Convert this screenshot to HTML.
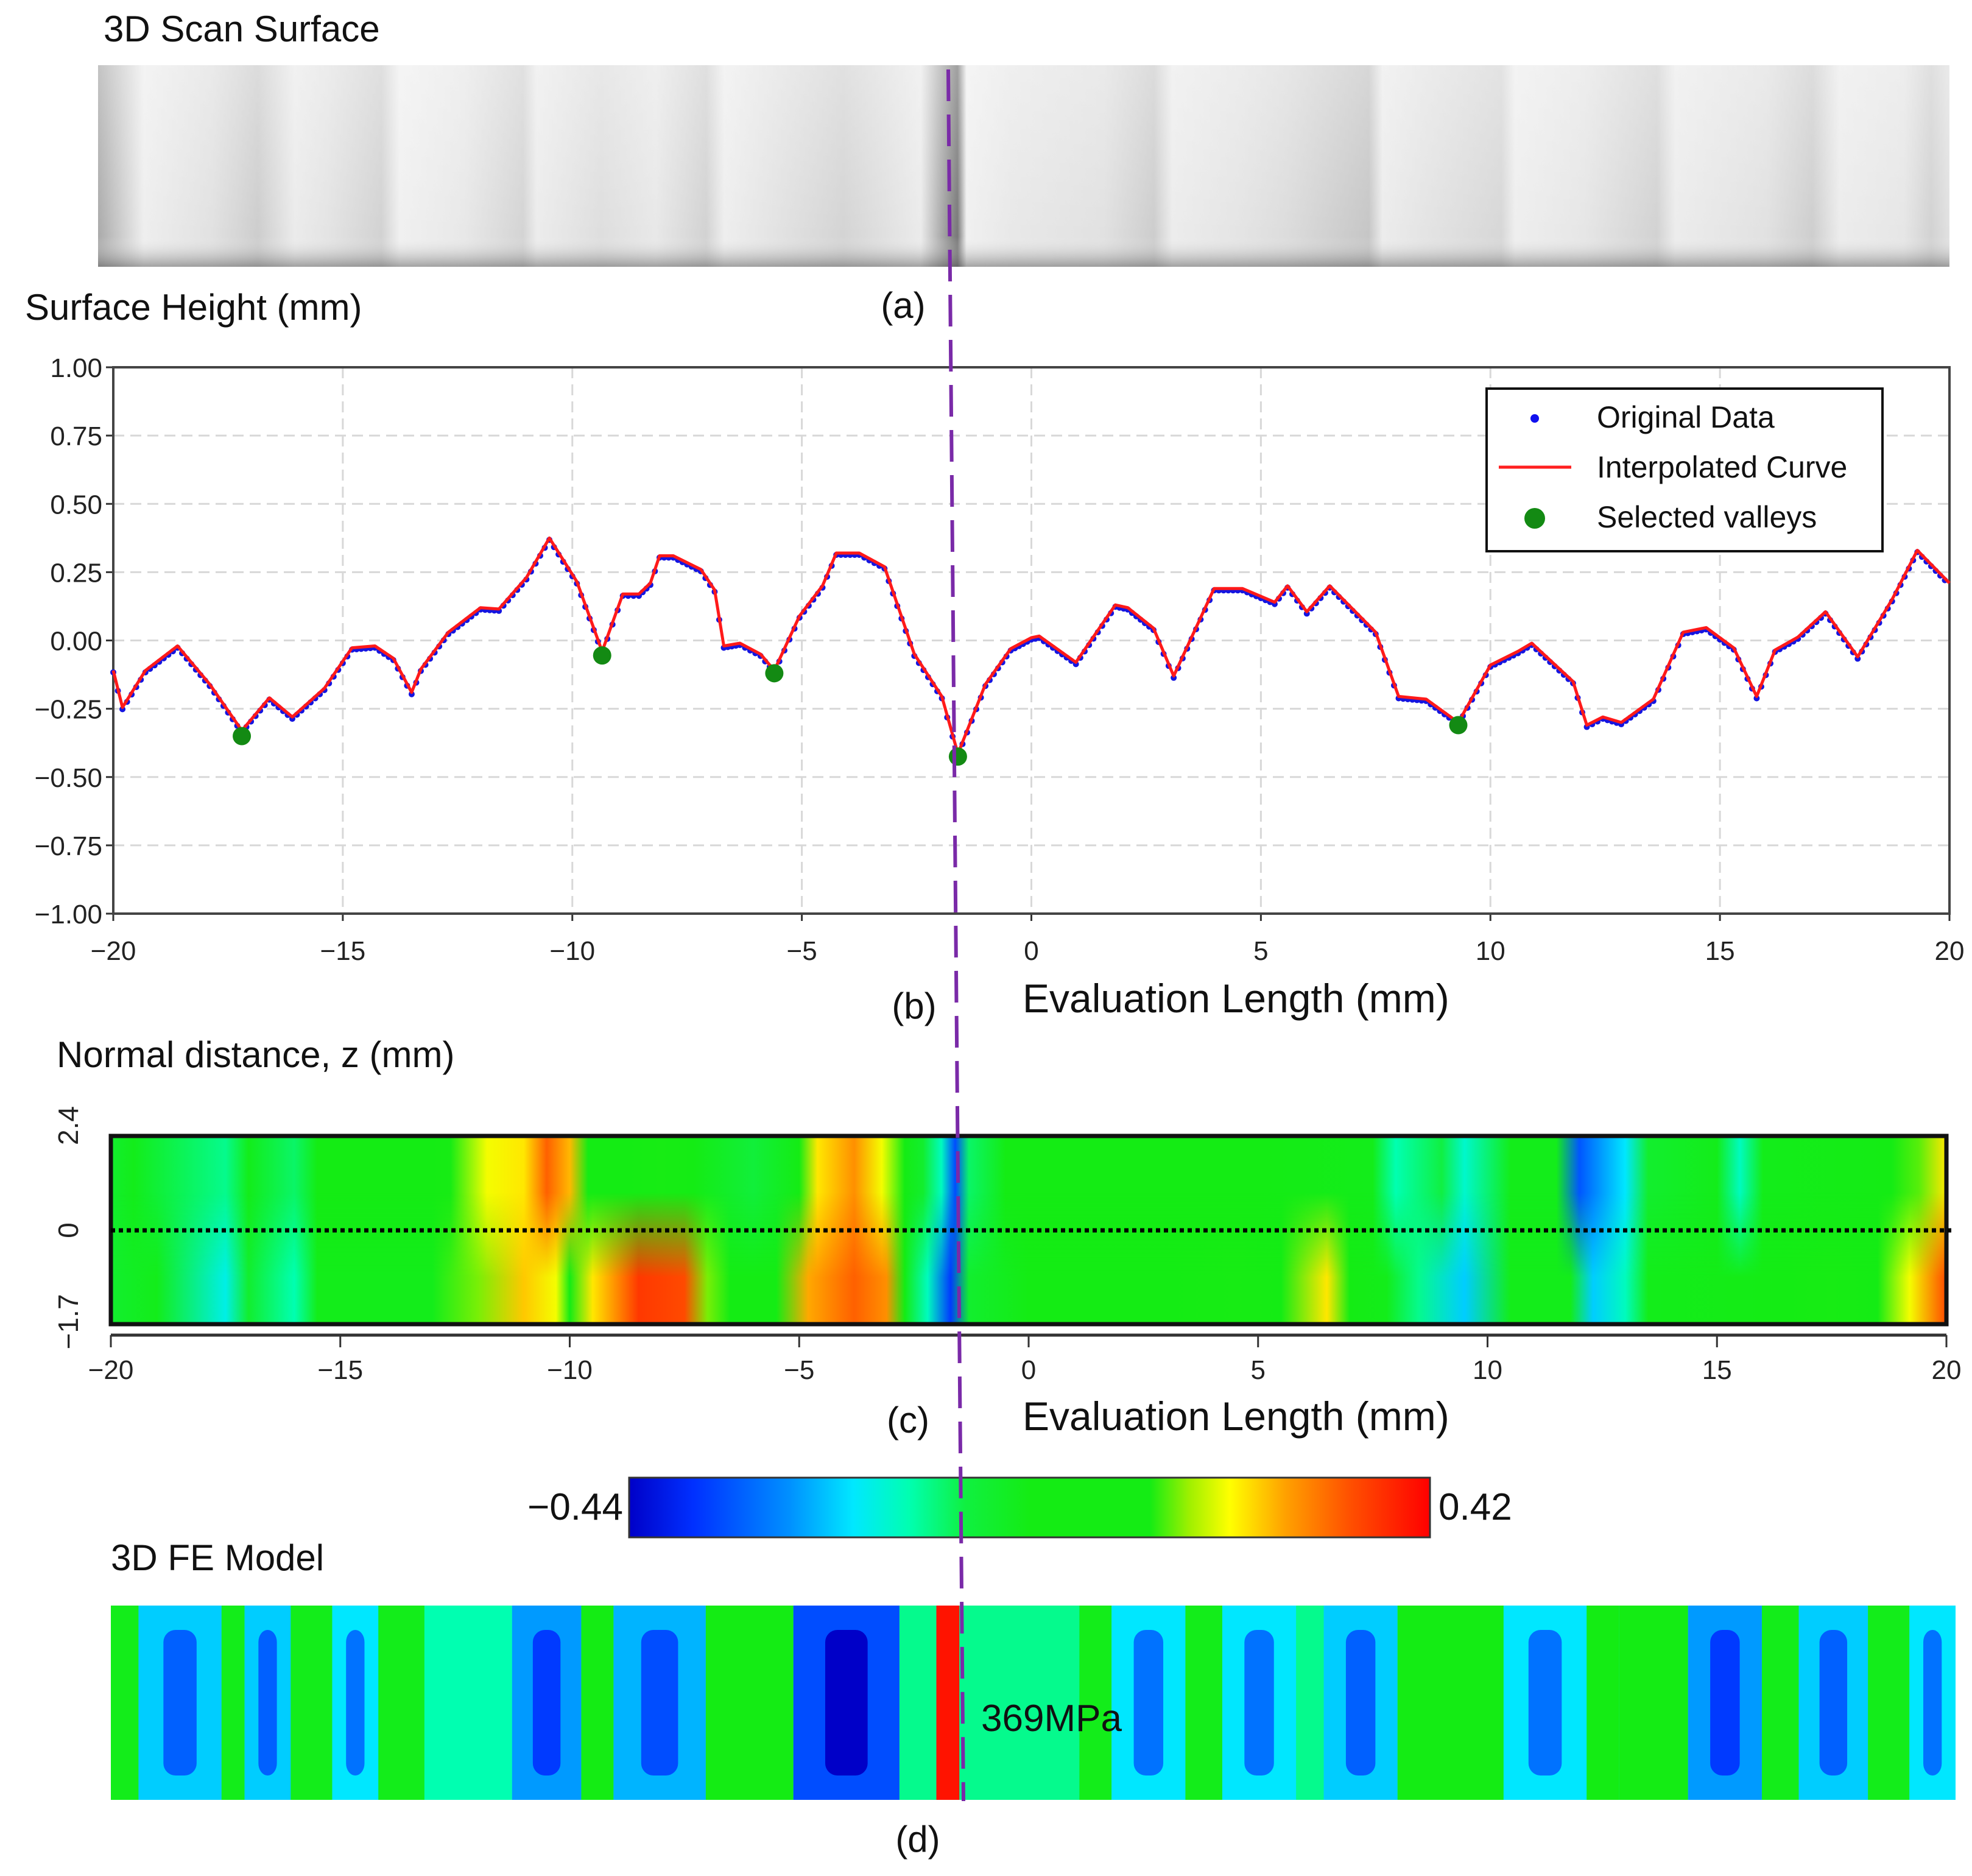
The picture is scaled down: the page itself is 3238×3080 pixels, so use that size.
<!DOCTYPE html>
<html><head><meta charset="utf-8">
<style>
html,body{margin:0;padding:0;background:#fff;}
svg{display:block;font-family:"Liberation Sans",sans-serif;}
</style></head>
<body>
<svg id="fig" width="3238" height="3080" viewBox="0 0 3238 3080" xmlns="http://www.w3.org/2000/svg">
<defs>
<linearGradient id="cbar" x1="0" x2="1" y1="0" y2="0">
<stop offset="0" stop-color="#0000c8"/><stop offset="0.08" stop-color="#0030ff"/><stop offset="0.2" stop-color="#0090ff"/><stop offset="0.28" stop-color="#00e8ff"/><stop offset="0.35" stop-color="#00ffb0"/><stop offset="0.42" stop-color="#10f040"/><stop offset="0.5" stop-color="#14ec14"/><stop offset="0.65" stop-color="#14ec14"/><stop offset="0.7" stop-color="#a0f000"/><stop offset="0.75" stop-color="#ffff00"/><stop offset="0.82" stop-color="#ffa000"/><stop offset="0.9" stop-color="#ff5000"/><stop offset="1" stop-color="#ff0000"/>
</linearGradient>
<linearGradient id="botMaskGrad" x1="0" x2="0" y1="0" y2="1"><stop offset="0.3" stop-color="#000"/><stop offset="0.75" stop-color="#fff"/></linearGradient>
<mask id="botMask"><rect x="182" y="1865" width="3014" height="309" fill="url(#botMaskGrad)"/></mask>
<linearGradient id="scanShade" x1="0" x2="0" y1="0" y2="1"><stop offset="0" stop-color="#fff" stop-opacity="0.3"/><stop offset="0.85" stop-color="#fff" stop-opacity="0"/><stop offset="1" stop-color="#555" stop-opacity="0.5"/></linearGradient>
</defs>

<!-- Panel (a) -->
<text x="170" y="68" font-size="60" fill="#111">3D Scan Surface</text>
<g id="scan"></g>
<text x="1483" y="522" font-size="60" text-anchor="middle" fill="#111">(a)</text>

<!-- Panel (b) -->
<text x="41" y="525" font-size="60" fill="#111">Surface Height (mm)</text>
<g id="plotB"></g>
<text x="1501" y="1672" font-size="60" text-anchor="middle" fill="#111">(b)</text>
<text x="1679" y="1662" font-size="66" fill="#111">Evaluation Length (mm)</text>

<!-- Legend -->
<g>
<rect x="2441" y="638" width="650" height="267" fill="#fff" stroke="#111" stroke-width="4"/>
<circle cx="2520" cy="687" r="7" fill="#1010ee"/>
<text x="2622" y="702" font-size="50" fill="#111">Original Data</text>
<line x1="2461" y1="767" x2="2580" y2="767" stroke="#ff2020" stroke-width="5"/>
<text x="2622" y="784" font-size="50" fill="#111">Interpolated Curve</text>
<circle cx="2520" cy="851" r="17" fill="#138a13"/>
<text x="2622" y="866" font-size="50" fill="#111">Selected valleys</text>
</g>

<!-- Panel (c) -->
<text x="93" y="1752" font-size="60" fill="#111">Normal distance, z (mm)</text>
<g id="heat"></g>
<text x="1491" y="2352" font-size="60" text-anchor="middle" fill="#111">(c)</text>
<text x="1679" y="2348" font-size="66" fill="#111">Evaluation Length (mm)</text>

<!-- Colorbar -->
<rect x="1033" y="2426" width="1315" height="98" fill="url(#cbar)" stroke="#333" stroke-width="3"/>
<text x="1023" y="2495" font-size="62" text-anchor="end" fill="#111">−0.44</text>
<text x="2362" y="2495" font-size="62" fill="#111">0.42</text>

<!-- Panel (d) -->
<text x="182" y="2578" font-size="60" fill="#111">3D FE Model</text>
<g id="fe"></g>
<text x="1611" y="2842" font-size="62" fill="#111">369MPa</text>
<text x="1507" y="3040" font-size="60" text-anchor="middle" fill="#111">(d)</text>

<line x1="1557" y1="114" x2="1582" y2="2957" stroke="#7a2aa8" stroke-width="6" stroke-dasharray="52,22"/>
</svg>

<script>
// ---------- Chart (b) data ----------
const profileX = [-20,-19.8,-19.3,-18.6,-17.9,-17.2,-16.6,-16.1,-15.4,-14.8,-14.3,-13.9,-13.5,-13.3,-12.7,-12.0,-11.6,-11.0,-10.5,-9.9,-9.35,-8.9,-8.55,-8.3,-8.1,-7.8,-7.2,-6.9,-6.7,-6.35,-5.9,-5.6,-5.05,-4.55,-4.25,-3.75,-3.2,-2.55,-1.95,-1.6,-1.0,-0.45,0,0.17,0.97,1.83,2.1,2.66,3.1,3.98,4.6,5.3,5.58,6.0,6.5,7.5,8.0,8.6,9.3,10.0,10.6,10.9,11.8,12.1,12.45,12.85,13.55,14.2,14.7,15.3,15.8,16.2,16.7,17.3,18.0,18.75,19.3,20];
const profileY = [-0.11,-0.245,-0.11,-0.02,-0.16,-0.33,-0.21,-0.28,-0.175,-0.027,-0.02,-0.065,-0.19,-0.105,0.03,0.12,0.115,0.23,0.375,0.215,-0.04,0.17,0.17,0.21,0.31,0.31,0.26,0.185,-0.02,-0.01,-0.05,-0.11,0.09,0.2,0.32,0.32,0.27,-0.05,-0.205,-0.415,-0.16,-0.03,0.01,0.016,-0.08,0.13,0.12,0.045,-0.13,0.19,0.19,0.14,0.2,0.105,0.2,0.03,-0.205,-0.215,-0.3,-0.09,-0.04,-0.01,-0.15,-0.31,-0.28,-0.3,-0.215,0.03,0.047,-0.027,-0.205,-0.035,0.0125,0.105,-0.06,0.15,0.33,0.21];
const valleyX = [-17.2,-9.35,-5.6,-1.6,9.3];
const valleyY = [-0.35,-0.055,-0.12,-0.425,-0.31];
const yTicks = [1.00,0.75,0.50,0.25,0.00,-0.25,-0.50,-0.75,-1.00];
const yTickLabels = ["1.00","0.75","0.50","0.25","0.00","\u22120.25","\u22120.50","\u22120.75","\u22121.00"];
const xTicks = [-20,-15,-10,-5,0,5,10,15,20];
const xTickLabels = ["\u221220","\u221215","\u221210","\u22125","0","5","10","15","20"];

// ---------- Heatmap (c) data ----------
const heatTopX = [-20,-19.5,-17.5,-17,-16,-15.5,-13,-12.6,-11.8,-11,-10.5,-10,-9.6,-9.3,-8.8,-8,-7.3,-6,-5,-4.6,-3.8,-3.2,-2.7,-2.3,-1.9,-1.6,-1.3,-0.5,1.5,2.5,4.5,5,7.5,8,9,9.5,10.5,11.5,12,13,13.5,15,15.5,16,18.8,19.4,20];
const heatTopV = [-0.05,-0.02,-0.12,-0.02,-0.1,-0.01,-0.01,0.12,0.2,0.22,0.32,0.25,0.05,-0.01,0.1,0.12,-0.01,-0.07,0.0,0.22,0.28,0.2,0.02,-0.05,-0.15,-0.34,-0.1,-0.01,0.05,-0.01,0.05,-0.01,-0.02,-0.14,-0.08,-0.16,-0.02,-0.02,-0.33,-0.2,-0.05,-0.02,-0.15,-0.02,0.0,0.14,0.22];
const heatBotX = [-20,-19,-17.5,-17,-16,-15.5,-13,-12,-11,-10.3,-10,-9.5,-8.5,-7.5,-7,-6.5,-5.5,-4.8,-3.8,-3.1,-2.7,-2.2,-1.7,-1.3,0,3,4.5,5.5,6.5,7,7.8,8.5,9.5,10.5,11.8,12.3,13,13.5,16.5,17.5,18.5,19.2,20];
const heatBotV = [-0.05,-0.02,-0.18,-0.05,-0.14,-0.02,-0.02,0.15,0.24,0.2,0.05,0.22,0.36,0.34,0.15,0.05,0.0,0.26,0.32,0.28,0.05,-0.15,-0.36,-0.05,-0.01,0.0,0.12,0.06,0.22,0.0,-0.02,-0.12,-0.22,-0.02,-0.02,-0.22,-0.15,-0.02,0.0,0.12,0.0,0.2,0.34];
const cbMin = -0.44, cbMax = 0.42;

// ---------- FE model stripes ----------
const feStart = [-20,-19.4,-17.6,-17.1,-16.1,-15.2,-14.2,-13.2,-11.3,-9.8,-9.1,-7.1,-5.2,-2.9,-2.1,-1.6,-1.4,1.0,1.7,3.3,4.1,5.7,6.3,7.9,10.2,12.0,12.7,14.2,15.8,16.6,18.1,19.0,20.4];
const feLevel = [-0.02,-0.22,-0.02,-0.22,-0.02,-0.2,-0.02,-0.14,-0.26,0.0,-0.24,-0.01,-0.34,-0.12,0.4,-0.12,-0.12,-0.02,-0.2,-0.02,-0.2,-0.12,-0.22,-0.01,-0.2,0.02,-0.01,-0.26,-0.02,-0.22,-0.02,-0.2,0.3];

// ---------- scan surface shading ----------
const scanX = [-20.5,-19.5,-18,-17,-16.2,-15.5,-14.3,-13.9,-12.5,-11.2,-10.9,-9.5,-8.3,-7.2,-6.8,-5.5,-4.2,-2.5,-1.7,-1.5,-0.5,1.5,2.6,3.0,4.5,5.5,7.3,7.6,8.5,10.2,10.5,12,13.6,14.0,16.0,17.0,17.6,19.0,19.6,20];
const scanG = [170,238,225,205,235,228,210,240,232,212,236,222,232,210,238,225,212,235,120,240,232,225,205,236,228,220,198,236,228,215,238,230,210,236,225,206,236,230,210,225];

const NS = "http://www.w3.org/2000/svg";
function mk(tag, attrs, parent){ const e=document.createElementNS(NS,tag); for(const k in attrs) e.setAttribute(k,attrs[k]); parent.appendChild(e); return e; }

const cmapStops=[[0,[0,0,200]],[0.08,[0,48,255]],[0.2,[0,144,255]],[0.28,[0,232,255]],[0.35,[0,255,176]],[0.42,[16,240,64]],[0.5,[20,236,20]],[0.65,[20,236,20]],[0.7,[160,240,0]],[0.75,[255,255,0]],[0.82,[255,160,0]],[0.9,[255,80,0]],[1,[255,0,0]]];
function cmap(v){ let t=(v-cbMin)/(cbMax-cbMin); t=Math.max(0,Math.min(1,t));
  for(let i=1;i<cmapStops.length;i++){ if(t<=cmapStops[i][0]){ const a=cmapStops[i-1],b=cmapStops[i]; const f=(t-a[0])/((b[0]-a[0])||1);
    const c=a[1].map((x,j)=>Math.round(x+(b[1][j]-x)*f)); return `rgb(${c[0]},${c[1]},${c[2]})`; } }
  return "rgb(255,0,0)"; }

// ---------- chart (b) ----------
(function(){
  const g=document.getElementById('plotB');
  const L=186,R=3201,T=603,B=1500;
  const xs=v=>L+(v+20)/40*(R-L), ys=v=>T+(1-v)/2*(B-T);
  for(let i=0;i<yTicks.length;i++){
    const y=ys(yTicks[i]);
    if(i>0&&i<yTicks.length-1){ const gl=mk('line',{x1:L,x2:R,y1:y,y2:y,stroke:'#d8d8d8','stroke-width':3,'stroke-dasharray':'18,10'},g);
        }
    mk('line',{x1:L-12,x2:L,y1:y,y2:y,stroke:'#333','stroke-width':3},g);
    const t=mk('text',{x:L-18,y:y+16,'font-size':44,'text-anchor':'end',fill:'#222'},g); t.textContent=yTickLabels[i];
     
  }
  for(let i=0;i<xTicks.length;i++){
    const x=xs(xTicks[i]);
    if(i>0&&i<xTicks.length-1){ const gl=mk('line',{x1:x,x2:x,y1:T,y2:B,stroke:'#d8d8d8','stroke-width':3,'stroke-dasharray':'18,10'},g);
        }
    mk('line',{x1:x,x2:x,y1:B,y2:B+12,stroke:'#333','stroke-width':3},g);
    const t=mk('text',{x:x,y:1576,'font-size':44,'text-anchor':'middle',fill:'#222'},g); t.textContent=xTickLabels[i];
     
  }
  const fr=mk('rect',{x:L,y:T,width:R-L,height:B-T,fill:'none',stroke:'#444','stroke-width':4},g);
   
  for(let i=0;i<profileX.length-1;i++){
    const n=Math.max(1,Math.round((profileX[i+1]-profileX[i])/0.1));
    for(let k=0;k<n;k++){ const f=k/n; const x=profileX[i]+(profileX[i+1]-profileX[i])*f, y=profileY[i]+(profileY[i+1]-profileY[i])*f;
      const d=mk('circle',{cx:xs(x),cy:ys(y)+3,r:5,fill:'#1515e0'},g);
        }
  }
  const pts=profileX.map((x,i)=>xs(x).toFixed(1)+','+ys(profileY[i]).toFixed(1)).join(' ');
  const pl=mk('polyline',{points:pts,fill:'none',stroke:'#ff1a1a','stroke-width':5,'stroke-linejoin':'round'},g);
   
  for(let i=0;i<valleyX.length;i++){
    const c=mk('circle',{cx:xs(valleyX[i]),cy:ys(valleyY[i]),r:15,fill:'#138a13'},g);
     
  }
})();

// ---------- heatmap (c) ----------
(function(){
  const g=document.getElementById('heat'), defs=document.querySelector('defs');
  const L=182,R=3196,T=1865,B=2174;
  const xs=v=>L+(v+20)/40*(R-L);
  function grad(id,X,V){ const lg=mk('linearGradient',{id:id,x1:0,x2:1,y1:0,y2:0},defs);
    for(let i=0;i<X.length;i++) mk('stop',{offset:((X[i]+20)/40).toFixed(4),'stop-color':cmap(V[i])},lg); }
  grad('heatTop',heatTopX,heatTopV); grad('heatBot',heatBotX,heatBotV);
  const r1=mk('rect',{x:L,y:T,width:R-L,height:B-T,fill:'url(#heatTop)'},g);
   
  const r2=mk('rect',{x:L,y:T,width:R-L,height:B-T,fill:'url(#heatBot)',mask:'url(#botMask)'},g);
   
  mk('rect',{x:L,y:T,width:R-L,height:B-T,fill:'none',stroke:'#111','stroke-width':7},g);
  const dl=mk('line',{x1:L,x2:R+8,y1:2020,y2:2020,stroke:'#000','stroke-width':7,'stroke-dasharray':'7,6'},g);
   
  mk('line',{x1:L,x2:R,y1:2192,y2:2192,stroke:'#333','stroke-width':5},g);
  for(let i=0;i<xTicks.length;i++){ const x=xs(xTicks[i]);
    mk('line',{x1:x,x2:x,y1:2192,y2:2212,stroke:'#333','stroke-width':3},g);
    const t=mk('text',{x:x,y:2264,'font-size':44,'text-anchor':'middle',fill:'#222'},g); t.textContent=xTickLabels[i];
      }
  const zl=[["2.4",1848],["0",2020],["\u22121.7",2170]];
  for(const [s,y] of zl){ const t=mk('text',{x:0,y:0,'font-size':46,'text-anchor':'middle',fill:'#222',transform:`translate(128,${y}) rotate(-90)`},g); t.textContent=s;
      }
})();

// ---------- FE model (d) ----------
(function(){
  const g=document.getElementById('fe');
  const L=182,R=3211,T=2636,B=2955;
  const xs=v=>L+(v+20)/40*(R-L);
  mk('rect',{x:L,y:T,width:R-L,height:B-T,fill:'#00f0f0'},g);
  for(let i=0;i<feStart.length-1;i++){
    const x0=xs(feStart[i]), x1=Math.min(R,xs(feStart[i+1]));
    const r=mk('rect',{x:x0,y:T,width:Math.max(1,x1-x0),height:B-T,fill:cmap(feLevel[i])},g);
     
    if(feLevel[i]<-0.18){ const c=mk('rect',{x:x0+(x1-x0)*0.3,y:T+40,width:(x1-x0)*0.4,height:B-T-80,rx:20,fill:cmap(feLevel[i]-0.1)},g);
        }
  }
})();

// ---------- scan surface (a) ----------
(function(){
  const g=document.getElementById('scan'), defs=document.querySelector('defs');
  const L=161,R=3201,T=107,B=438;
  const lg=mk('linearGradient',{id:'scanGrad',x1:0,x2:1,y1:0,y2:0},defs);
  for(let i=0;i<scanX.length;i++) mk('stop',{offset:((scanX[i]+20.5)/40.5).toFixed(4),'stop-color':`rgb(${scanG[i]},${scanG[i]},${scanG[i]})`},lg);
  const r=mk('rect',{x:L,y:T,width:R-L,height:B-T,fill:'url(#scanGrad)'},g);
   
  mk('rect',{x:L,y:T,width:R-L,height:B-T,fill:'url(#scanShade)'},g);
})();
</script>
</body></html>
